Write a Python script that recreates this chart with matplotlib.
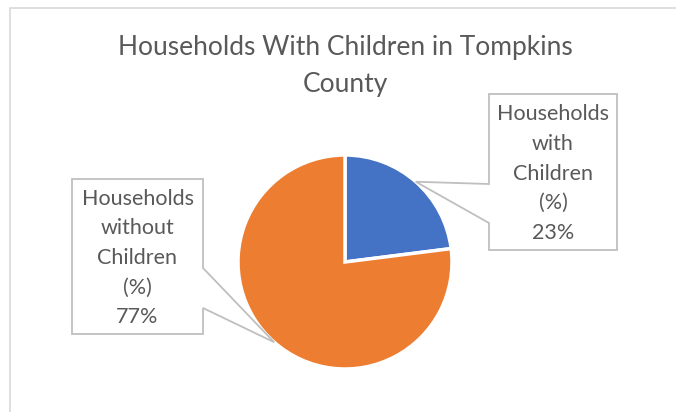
import matplotlib
matplotlib.use("Agg")
import matplotlib.pyplot as plt
import numpy as np
from matplotlib.patches import Polygon, Rectangle

categories = ["Households with Children (%)", "Households without Children (%)"]
label_lines = [["Households", "with", "Children", "(%)"],
               ["Households", "without", "Children", "(%)"]]
values = [23, 77]
colors = ["#4472C4", "#ED7D31"]
title = "Households With Children in Tompkins\nCounty"

W, H = 676, 412
fig = plt.figure(figsize=(W / 100, H / 100), dpi=100)
ax = fig.add_axes([0, 0, 1, 1])
ax.set_xlim(0, W)
ax.set_ylim(0, H)
ax.axis("off")

def Y(y):
    return H - y

# chart border
ax.add_patch(Rectangle((10, -20), W + 20, Y(8) + 20, fill=False,
                       edgecolor="#d9d9d9", linewidth=1.2))

cx, cy, r = 345, Y(262), 107
wedges, _ = ax.pie(values, colors=colors, startangle=90, counterclock=False,
                   center=(cx, cy), radius=r,
                   wedgeprops=dict(edgecolor="white", linewidth=2.5))
ax.set_xlim(0, W)
ax.set_ylim(0, H)
ax.set_aspect("equal")

ax.text(345, Y(66), title, ha="center", va="center", fontsize=19,
        color="#595959", family="Lato", linespacing=1.57)

boxes = [(489, 94, 617, 250, 184, 223), (72, 179, 203, 334, 268, 308)]
fontc = "#595959"
for w, (x0, y0, x1, y1, a0, a1), lines, v in zip(wedges, boxes, label_lines, values):
    mid = np.deg2rad((w.theta1 + w.theta2) / 2)
    tx, ty = cx + r * np.cos(mid), cy + r * np.sin(mid)
    if tx > cx:
        pts = [(x0, y0), (x1, y0), (x1, y1), (x0, y1), (x0, a1), None, (x0, a0)]
    else:
        pts = [(x0, y0), (x1, y0), (x1, a0), None, (x1, a1), (x1, y1), (x0, y1)]
    poly = [(tx, ty) if p is None else (p[0], Y(p[1])) for p in pts]
    ax.add_patch(Polygon(poly, closed=True, facecolor="white",
                         edgecolor="#bfbfbf", linewidth=1.3, zorder=3))
    txt = "\n".join(lines + [f"{v}%"])
    ax.text((x0 + x1) / 2, Y((y0 + y1) / 2 + 1.5), txt, ha="center", va="center",
            fontsize=15.5, color=fontc, family="Lato", linespacing=1.6, zorder=4)

fig.savefig("out.png", dpi=100)
